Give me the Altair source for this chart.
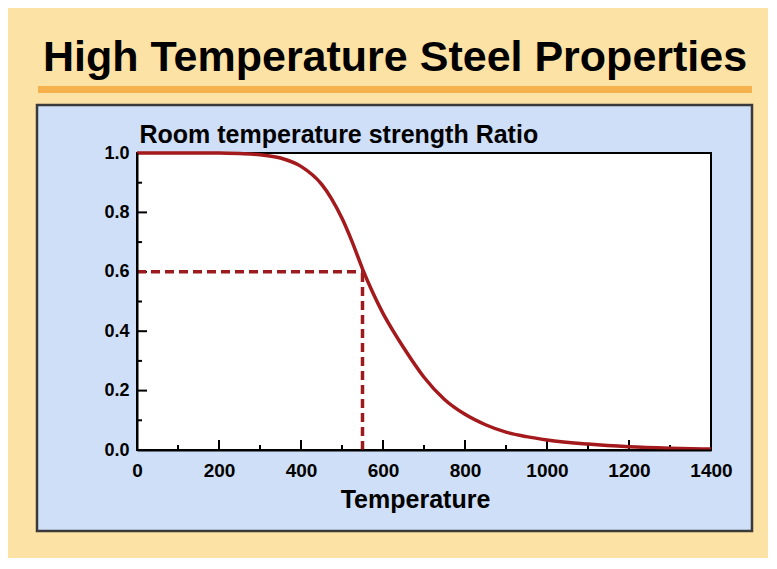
import altair as alt
import pandas as pd

# ---- data ----
temps = [0, 100, 200, 250, 300, 350, 400, 450, 475, 500, 525, 550, 575, 600, 625,
         650, 700, 750, 800, 850, 900, 950, 1000, 1100, 1200, 1300, 1400]
ratio = [1.0, 1.0, 1.0, 0.998, 0.994, 0.983, 0.955, 0.895, 0.845, 0.78, 0.70,
         0.61, 0.53, 0.46, 0.40, 0.345, 0.245, 0.17, 0.12, 0.085, 0.06, 0.045,
         0.034, 0.02, 0.011, 0.006, 0.003]
x_major = [0, 200, 400, 600, 800, 1000, 1200, 1400]
x_minor = [100, 300, 500, 700, 900, 1100, 1300]
y_major = [0.0, 0.2, 0.4, 0.6, 0.8, 1.0]
y_minor = [0.1, 0.3, 0.5, 0.7, 0.9]
ref_temp = 550
ref_ratio = 0.6
title_text = "High Temperature Steel Properties"
y_title = "Room temperature strength Ratio"
x_title = "Temperature"

# ---- layout / style ----
W, H = 574, 297
PAD = {"left": 129, "top": 145, "right": 57, "bottom": 108}
FONT = "Liberation Sans, Arial, sans-serif"
RED = "#A3191C"
DASH_RED = "#9B1B1E"
TAN = "#FDE2A5"
BLUE = "#CEDFF7"
ORANGE = "#F5B14C"

xs = alt.Scale(domain=[0, 1400], nice=False, zero=False)
ys = alt.Scale(domain=[0, 1], nice=False, zero=False)

common_axis = dict(
    zindex=2, grid=False, ticks=False, labelFlush=False,
    domainColor="black", domainWidth=2,
    labelFont=FONT, labelFontWeight="bold", labelColor="black",
    titleFont=FONT, titleFontSize=25, titleFontWeight="bold", titleColor="black",
)
x_axis = alt.Axis(values=x_major, format="d", title=x_title, titleX=278, titleY=57,
                  titleAlign="center", titleBaseline="alphabetic", labelPadding=11,
                  labelFontSize=19, **common_axis)
y_axis = alt.Axis(values=y_major, format=".1f", title=y_title, titleAngle=0,
                  titleX=2, titleY=-11, titleAlign="left",
                  titleBaseline="alphabetic", labelPadding=8,
                  labelBaseline="middle", labelFontSize=18, **common_axis)


def X(field):
    return alt.X(field, scale=xs, axis=x_axis)


def Y(field):
    return alt.Y(field, scale=ys, axis=y_axis)


one = pd.DataFrame({"a": [0]})

panel = alt.Chart(one).mark_rect(fill=BLUE, stroke="#3a3a3a", strokeWidth=2.5).encode(
    x=alt.value(-100), x2=alt.value(615), y=alt.value(-48), y2=alt.value(378))

bar = alt.Chart(one).mark_rect(fill=ORANGE).encode(
    x=alt.value(-99), x2=alt.value(615), y=alt.value(-67), y2=alt.value(-60))

title = alt.Chart(pd.DataFrame({"t": [title_text]})).mark_text(
    align="left", baseline="alphabetic", font=FONT, fontSize=43,
    fontWeight="bold", color="black").encode(
    x=alt.value(-94), y=alt.value(-82), text="t:N")

plotbg = alt.Chart(pd.DataFrame({"x0": [0], "x1": [1400], "y0": [0], "y1": [1]})).mark_rect(
    fill="white", stroke="black", strokeWidth=2).encode(
    x=X("x0:Q"), x2="x1:Q", y=Y("y0:Q"), y2="y1:Q")

hdash = alt.Chart(pd.DataFrame({"x0": [0], "x1": [ref_temp], "y": [ref_ratio]})).mark_rule(
    color=DASH_RED, strokeWidth=3.5, strokeDash=[9, 5]).encode(
    x=X("x0:Q"), x2="x1:Q", y=Y("y:Q"))

vdash = alt.Chart(pd.DataFrame({"x": [ref_temp], "y0": [0], "y1": [ref_ratio]})).mark_rule(
    color=DASH_RED, strokeWidth=3.5, strokeDash=[9, 5]).encode(
    x=X("x:Q"), y=Y("y0:Q"), y2="y1:Q")

curve = alt.Chart(pd.DataFrame({"T": temps, "R": ratio})).mark_line(
    color=RED, strokeWidth=3.5, interpolate="monotone").encode(
    x=X("T:Q"), y=Y("R:Q"))

xt_major = alt.Chart(pd.DataFrame({"v": x_major})).mark_rule(color="black", strokeWidth=2).encode(
    x=X("v:Q"), y=alt.value(H), y2=alt.value(H - 10))
xt_minor = alt.Chart(pd.DataFrame({"v": x_minor})).mark_rule(color="black", strokeWidth=2).encode(
    x=X("v:Q"), y=alt.value(H), y2=alt.value(H - 5))
yt_major = alt.Chart(pd.DataFrame({"v": y_major})).mark_rule(color="black", strokeWidth=2).encode(
    y=Y("v:Q"), x=alt.value(0), x2=alt.value(10))
yt_minor = alt.Chart(pd.DataFrame({"v": y_minor})).mark_rule(color="black", strokeWidth=2).encode(
    y=Y("v:Q"), x=alt.value(0), x2=alt.value(5))

chart = alt.layer(
    panel, bar, title, plotbg, xt_major, xt_minor, yt_major, yt_minor,
    hdash, vdash, curve
).properties(
    width=W, height=H,
    autosize=alt.AutoSizeParams(type="none"),
    padding=PAD,
    background=TAN,
).configure_view(
    stroke="transparent"
)

chart.save("out.html", embed_options={"renderer": "svg", "actions": False})
